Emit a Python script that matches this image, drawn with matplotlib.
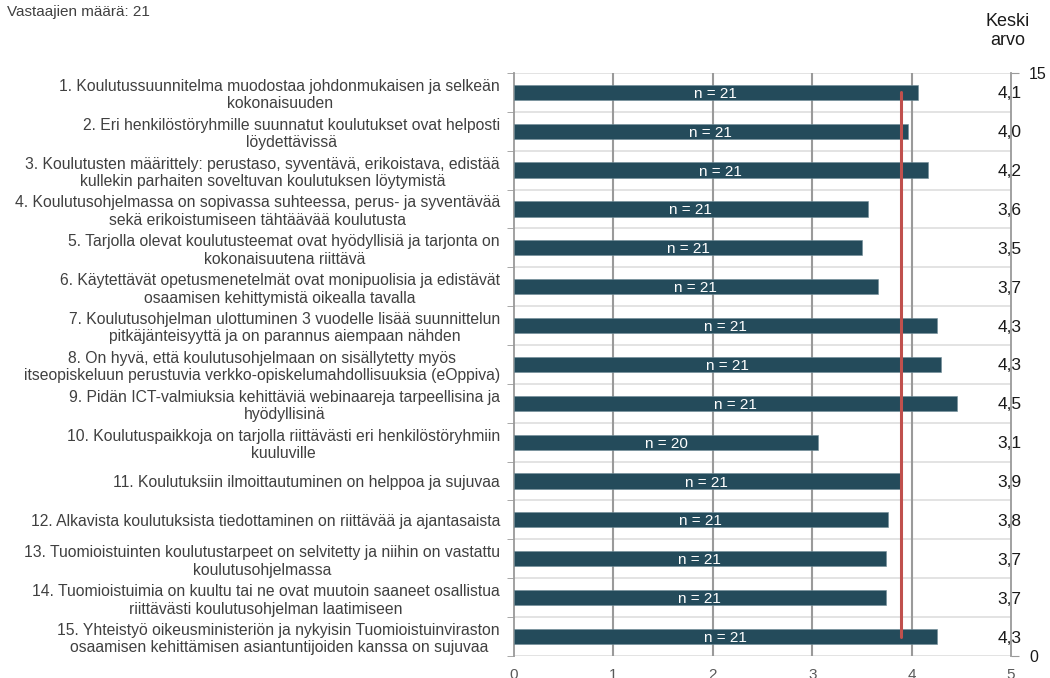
import numpy as np
import matplotlib.pyplot as plt

plt.rcParams['font.family'] = ['Liberation Sans', 'DejaVu Sans']

questions = [
    "1. Koulutussuunnitelma muodostaa johdonmukaisen ja selkeän\nkokonaisuuden",
    "2. Eri henkilöstöryhmille suunnatut koulutukset ovat helposti\nlöydettävissä",
    "3. Koulutusten määrittely: perustaso, syventävä, erikoistava, edistää\nkullekin parhaiten soveltuvan koulutuksen löytymistä",
    "4. Koulutusohjelmassa on sopivassa suhteessa, perus- ja syventävää\nsekä erikoistumiseen tähtäävää koulutusta",
    "5. Tarjolla olevat koulutusteemat ovat hyödyllisiä ja tarjonta on\nkokonaisuutena riittävä",
    "6. Käytettävät opetusmenetelmät ovat monipuolisia ja edistävät\nosaamisen kehittymistä oikealla tavalla",
    "7. Koulutusohjelman ulottuminen 3 vuodelle lisää suunnittelun\npitkäjänteisyyttä ja on parannus aiempaan nähden",
    "8. On hyvä, että koulutusohjelmaan on sisällytetty myös\nitseopiskeluun perustuvia verkko-opiskelumahdollisuuksia (eOppiva)",
    "9. Pidän ICT-valmiuksia kehittäviä webinaareja tarpeellisina ja\nhyödyllisinä",
    "10. Koulutuspaikkoja on tarjolla riittävästi eri henkilöstöryhmiin\nkuuluville",
    "11. Koulutuksiin ilmoittautuminen on helppoa ja sujuvaa",
    "12. Alkavista koulutuksista tiedottaminen on riittävää ja ajantasaista",
    "13. Tuomioistuinten koulutustarpeet on selvitetty ja niihin on vastattu\nkoulutusohjelmassa",
    "14. Tuomioistuimia on kuultu tai ne ovat muutoin saaneet osallistua\nriittävästi koulutusohjelman laatimiseen",
    "15. Yhteistyö oikeusministeriön ja nykyisin Tuomioistuinviraston\nosaamisen kehittämisen asiantuntijoiden kanssa on sujuvaa",
]
means = [4.06, 3.96, 4.16, 3.56, 3.50, 3.66, 4.26, 4.30, 4.46, 3.06,
         3.88, 3.76, 3.74, 3.74, 4.26]
counts = [21, 21, 21, 21, 21, 21, 21, 21, 21, 20, 21, 21, 21, 21, 21]
respondents = 21

bar_color = '#244b5b'
grey_text = '#404040'

fig = plt.figure(figsize=(10.5, 6.78), dpi=100)
ax = fig.add_axes([0.4895, 0.0325, 0.4734, 0.8600])

y = np.arange(len(means))
ax.barh(y, means, height=0.39, color=bar_color, edgecolor='#6f8c97',
        linewidth=0.4, zorder=3)

for yi, v, n in zip(y, means, counts):
    ax.text(v / 2, yi, f"n = {n}", color='white', fontsize=11,
            ha='center', va='center_baseline', zorder=4)
    ax.text(4.985, yi, f"{v:.1f}".replace('.', ','), color='#1a1a1a',
            fontsize=12.5, ha='center', va='center_baseline', zorder=5)

# overall average of all questions
avg = np.mean(means)
ax.plot([avg, avg], [0, len(means) - 1], color='#c0504d', lw=2.2,
        solid_capstyle='round', zorder=4)

ax.set_xlim(0, 5)
ax.set_ylim(len(means) - 0.5, -0.5)

# row separators and vertical grid
for b in np.arange(len(means) + 1) - 0.5:
    ax.axhline(b, color='#dedede', lw=1.2, zorder=1)
for gx in [1, 2, 3, 4]:
    ax.axvline(gx, color='#9a9a9a', lw=1.5, zorder=2)

ax.set_yticks(y)
ax.set_yticklabels(questions, fontsize=11.3, color=grey_text,
                   multialignment='center', linespacing=1.2)
ax.set_yticks(np.arange(len(means) + 1) - 0.5, minor=True)
ax.tick_params(axis='y', which='major', length=0, pad=10)
ax.tick_params(axis='y', which='minor', length=5, color='#9a9a9a')
ax.set_xticks([0, 1, 2, 3, 4, 5])
ax.tick_params(axis='x', length=0, labelsize=11, labelcolor='#595959', pad=8.5)

for s in ['top', 'bottom']:
    ax.spines[s].set_visible(False)
ax.spines['left'].set_color('#9a9a9a')
ax.spines['left'].set_linewidth(1.3)
ax.spines['right'].set_visible(False)

ax2 = ax.twinx()
ax2.set_ylim(0, 15)
ax2.set_yticks([0, 15])
ax2.tick_params(axis='y', length=6, color='#9a9a9a', labelsize=11.5,
                labelcolor='#1a1a1a', pad=7)
for s in ['top', 'bottom', 'left']:
    ax2.spines[s].set_visible(False)
ax2.spines['right'].set_color('#9a9a9a')
ax2.spines['right'].set_linewidth(1.3)

fig.text(0.007, 0.993, f"Vastaajien määrä: {respondents}", fontsize=11,
         color=grey_text, ha='left', va='top')
fig.text(0.96, 0.954, "Keski\narvo", fontsize=13, color='#1a1a1a',
         ha='center', va='center', linespacing=1.15)

fig.savefig('out.png', dpi=100)
